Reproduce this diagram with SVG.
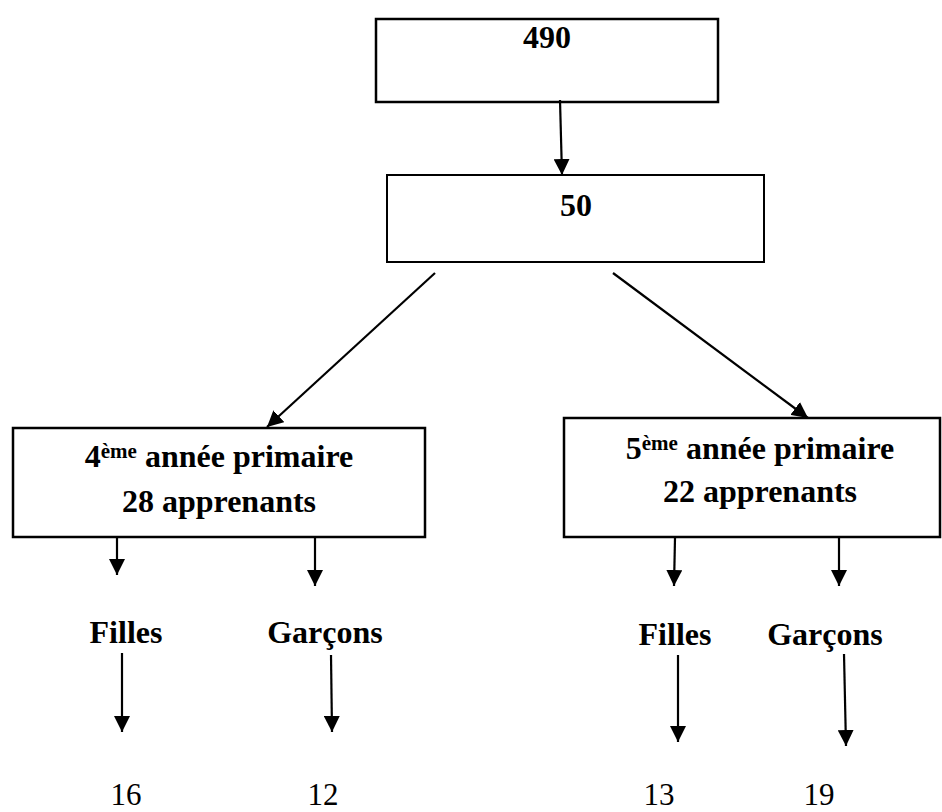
<svg xmlns="http://www.w3.org/2000/svg" width="942" height="812" viewBox="0 0 942 812">
<style>
.box{fill:#fff;stroke:#000;stroke-width:2.5}
.b{font-family:"Liberation Serif","Times New Roman",serif;font-weight:bold;font-size:32px;fill:#000;text-anchor:middle}
.sup{font-size:21px}
.n{font-family:"Liberation Serif","Times New Roman",serif;font-size:31px;fill:#000;text-anchor:middle}
.c line{stroke:#000;stroke-width:2.2;marker-end:url(#ah)}
</style>
<defs>
<marker id="ah" markerUnits="userSpaceOnUse" markerWidth="16" markerHeight="16" refX="15" refY="7.5" orient="auto" viewBox="0 0 15 15">
<path d="M0,0 L15,7.5 L0,15 z" fill="#000"/>
</marker>
</defs>
<g id="n490"><rect class="box" x="376" y="19" width="342" height="83"/><text class="b" x="547" y="48">490</text></g>
<g id="n50"><rect class="box" style="stroke-width:2" x="387" y="175" width="377" height="87"/><text class="b" x="576" y="216">50</text></g>
<g id="n4eme"><rect class="box" x="13" y="428" width="412" height="109"/>
<text class="b" x="219" y="467">4<tspan class="sup" dy="-9">ème</tspan><tspan dy="9"> année primaire</tspan></text>
<text class="b" x="219" y="512">28 apprenants</text></g>
<g id="n5eme"><rect class="box" x="564" y="418" width="376" height="119"/>
<text class="b" x="760" y="459">5<tspan class="sup" dy="-9">ème</tspan><tspan dy="9"> année primaire</tspan></text>
<text class="b" x="760" y="502">22 apprenants</text></g>
<g id="f4"><text class="b" x="126" y="643">Filles</text></g>
<g id="g4"><text class="b" x="325" y="643">Garçons</text></g>
<g id="f5"><text class="b" x="675" y="645">Filles</text></g>
<g id="g5"><text class="b" x="825" y="645">Garçons</text></g>
<g id="v16"><text class="n" x="126" y="805">16</text></g>
<g id="v12"><text class="n" x="323" y="805">12</text></g>
<g id="v13"><text class="n" x="659" y="805">13</text></g>
<g id="v19"><text class="n" x="819" y="805">19</text></g>
<g id="connectors" class="c">
<line x1="560" y1="100" x2="562" y2="175"/>
<line x1="435" y1="273" x2="267" y2="427"/>
<line x1="613" y1="273" x2="808" y2="418"/>
<line x1="117" y1="538" x2="117" y2="575"/>
<line x1="315" y1="538" x2="315" y2="586"/>
<line x1="675" y1="538" x2="674" y2="586"/>
<line x1="839" y1="538" x2="839" y2="586"/>
<line x1="122" y1="653" x2="122" y2="732"/>
<line x1="331" y1="655" x2="332" y2="732"/>
<line x1="678" y1="655" x2="678" y2="742"/>
<line x1="844" y1="654" x2="846" y2="746"/>
</g>
</svg>
